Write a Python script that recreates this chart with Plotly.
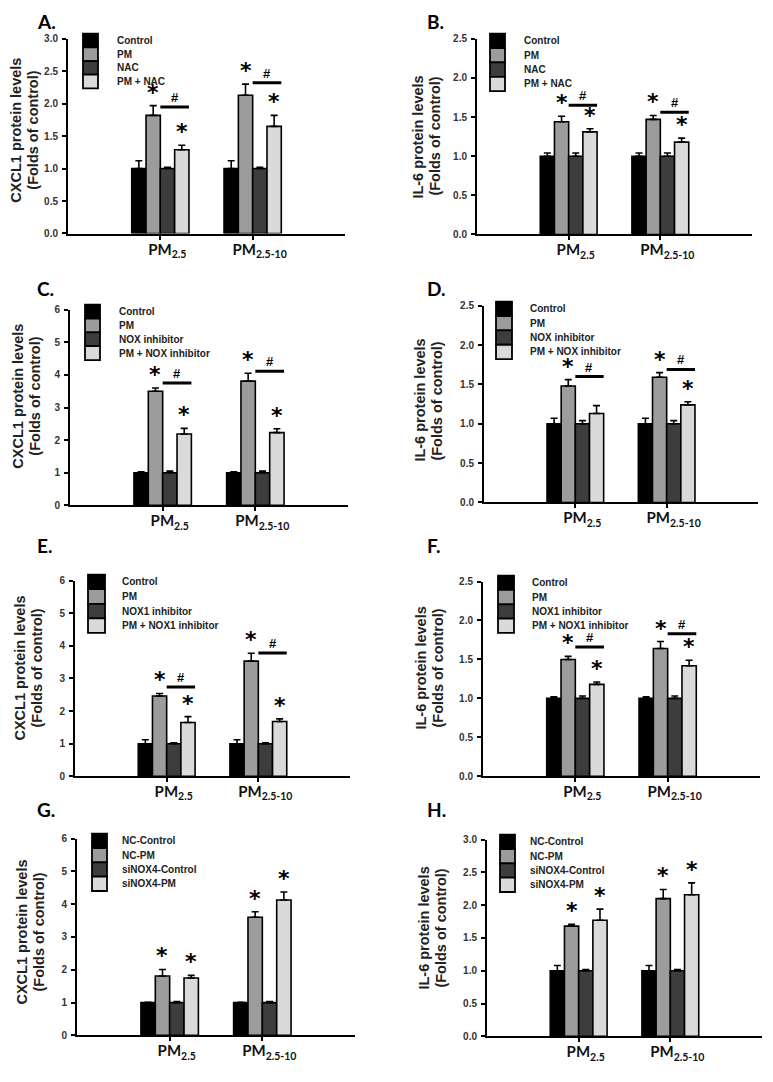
import plotly.graph_objects as go

W, H = 773, 1082
PAD = 8                       # default page margin around the plot div
FW, FH = W - 2 * PAD, H - 2 * PAD

# ---------------- data ----------------
groups = ["PM<sub>2.5</sub>", "PM<sub>2.5-10</sub>"]
group_x = [1, 2]
colors = ["#000000", "#9c9c9c", "#3d3d3d", "#dadada"]

labels_A = ["Control", "PM", "NAC", "PM + NAC"]
mean_A = [[1.00, 1.00], [1.82, 2.13], [1.00, 1.00], [1.29, 1.65]]
err_A = [[0.12, 0.12], [0.15, 0.17], [0.02, 0.02], [0.07, 0.17]]
star_A = [[0, 0], [1, 1], [0, 0], [1, 1]]
hash_A = [1.95, 2.32]

labels_B = ["Control", "PM", "NAC", "PM + NAC"]
mean_B = [[1.00, 1.00], [1.44, 1.47], [1.00, 1.00], [1.31, 1.18]]
err_B = [[0.04, 0.04], [0.07, 0.05], [0.04, 0.04], [0.04, 0.05]]
star_B = [[0, 0], [1, 1], [0, 0], [1, 1]]
hash_B = [1.65, 1.56]

labels_C = ["Control", "PM", "NOX inhibitor", "PM + NOX inhibitor"]
mean_C = [[1.00, 1.00], [3.50, 3.81], [1.00, 1.00], [2.19, 2.23]]
err_C = [[0.03, 0.03], [0.10, 0.24], [0.05, 0.05], [0.17, 0.12]]
star_C = [[0, 0], [1, 1], [0, 0], [1, 1]]
hash_C = [3.75, 4.11]

labels_D = ["Control", "PM", "NOX inhibitor", "PM + NOX inhibitor"]
mean_D = [[1.00, 1.00], [1.48, 1.59], [1.00, 1.00], [1.13, 1.24]]
err_D = [[0.07, 0.07], [0.08, 0.06], [0.04, 0.04], [0.10, 0.04]]
star_D = [[0, 0], [1, 1], [0, 0], [0, 1]]
hash_D = [1.60, 1.69]

labels_E = ["Control", "PM", "NOX1 inhibitor", "PM + NOX1 inhibitor"]
mean_E = [[1.00, 1.00], [2.46, 3.53], [1.00, 1.00], [1.65, 1.68]]
err_E = [[0.12, 0.12], [0.08, 0.24], [0.03, 0.03], [0.18, 0.08]]
star_E = [[0, 0], [1, 1], [0, 0], [1, 1]]
hash_E = [2.74, 3.78]

labels_F = ["Control", "PM", "NOX1 inhibitor", "PM + NOX1 inhibitor"]
mean_F = [[1.00, 1.00], [1.50, 1.64], [1.00, 1.00], [1.18, 1.42]]
err_F = [[0.02, 0.02], [0.04, 0.09], [0.03, 0.03], [0.03, 0.07]]
star_F = [[0, 0], [1, 1], [0, 0], [1, 1]]
hash_F = [1.66, 1.83]

labels_G = ["NC-Control", "NC-PM", "siNOX4-Control", "siNOX4-PM"]
mean_G = [[1.00, 1.00], [1.81, 3.60], [1.00, 1.00], [1.75, 4.13]]
err_G = [[0.01, 0.01], [0.20, 0.17], [0.03, 0.03], [0.08, 0.24]]
star_G = [[0, 0], [1, 1], [0, 0], [1, 1]]
hash_G = None

labels_H = ["NC-Control", "NC-PM", "siNOX4-Control", "siNOX4-PM"]
mean_H = [[1.00, 1.00], [1.68, 2.10], [1.00, 1.00], [1.77, 2.16]]
err_H = [[0.08, 0.08], [0.03, 0.14], [0.02, 0.02], [0.17, 0.18]]
star_H = [[0, 0], [1, 1], [0, 0], [1, 1]]
hash_H = None

ytitle_cxcl = ["CXCL1 protein levels", "(Folds of control)"]
ytitle_il6 = ["IL-6 protein levels", "(Folds of control)"]

# ---------------- layout per panel (page pixels) ----------------
panels = [
    dict(letter="A.", labels=labels_A, mean=mean_A, err=err_A, star=star_A, hash=hash_A,
         ytitle=ytitle_cxcl, yr=3.0, dt=0.5, fmt=".1f",
         dom=(68, 345, 33, 230), lpos=(35, 16), tpos=(16, 126), leg=(83, 28, 15, 13.8, 115)),
    dict(letter="B.", labels=labels_B, mean=mean_B, err=err_B, star=star_B, hash=hash_B,
         ytitle=ytitle_il6, yr=2.5, dt=0.5, fmt=".1f",
         dom=(477, 752, 33, 231), lpos=(425, 16), tpos=(418, 132), leg=(490, 28, 15, 14.5, 522)),
    dict(letter="C.", labels=labels_C, mean=mean_C, err=err_C, star=star_C, hash=hash_C,
         ytitle=ytitle_cxcl, yr=6, dt=1, fmt="d",
         dom=(70, 348, 307, 505), lpos=(35, 286), tpos=(18, 395), leg=(85, 302, 15, 14, 117)),
    dict(letter="D.", labels=labels_D, mean=mean_D, err=err_D, star=star_D, hash=hash_D,
         ytitle=ytitle_il6, yr=2.5, dt=0.5, fmt=".1f",
         dom=(484, 758, 303, 502), lpos=(425, 286), tpos=(420, 399), leg=(496, 299, 16, 14.5, 528)),
    dict(letter="E.", labels=labels_E, mean=mean_E, err=err_E, star=star_E, hash=hash_E,
         ytitle=ytitle_cxcl, yr=6, dt=1, fmt="d",
         dom=(75, 350, 581, 779), lpos=(35, 546), tpos=(20, 670), leg=(88, 575, 17, 14.75, 120)),
    dict(letter="F.", labels=labels_F, mean=mean_F, err=err_F, star=star_F, hash=hash_F,
         ytitle=ytitle_il6, yr=2.5, dt=0.5, fmt=".1f",
         dom=(483, 760, 582, 779), lpos=(425, 546), tpos=(421, 670), leg=(498, 576, 16, 14.5, 530)),
    dict(letter="G.", labels=labels_G, mean=mean_G, err=err_G, star=star_G, hash=hash_G,
         ytitle=ytitle_cxcl, yr=6, dt=1, fmt="d",
         dom=(77, 355, 842, 1041), lpos=(35, 813), tpos=(22, 937), leg=(92, 837, 15, 14.5, 120)),
    dict(letter="H.", labels=labels_H, mean=mean_H, err=err_H, star=star_H, hash=hash_H,
         ytitle=ytitle_il6, yr=3.0, dt=0.5, fmt=".1f",
         dom=(487, 762, 843, 1042), lpos=(425, 813), tpos=(424, 933), leg=(500, 838, 15, 14.5, 528)),
]
TITLE_GAP = 17

BW = 0.155  # bar width in category units
offsets = [-2 * BW, -BW, 0.0, BW]

def px(x):
    return (x - PAD) / FW

def py(y):
    return 1 - (y - PAD) / FH

fig = go.Figure()
annotations = []
shapes = []
layout = {}

for i, p in enumerate(panels):
    n = i + 1
    xa = "x" if n == 1 else f"x{n}"
    ya = "y" if n == 1 else f"y{n}"
    xkey = "xaxis" if n == 1 else f"xaxis{n}"
    ykey = "yaxis" if n == 1 else f"yaxis{n}"
    x0, x1, yt, yb = p["dom"]

    for s in range(4):
        fig.add_trace(go.Bar(
            x=group_x, y=p["mean"][s], name=p["labels"][s],
            xaxis=xa, yaxis=ya, width=BW, offset=offsets[s],
            marker=dict(color=colors[s], line=dict(color="#000", width=1.6)),
            error_y=dict(type="data", array=p["err"][s], arrayminus=[0, 0], symmetric=False,
                         color="#000", thickness=1.6, width=3.5),
            showlegend=False, hoverinfo="skip",
        ))
        for g in range(2):
            if p["star"][s][g]:
                annotations.append(dict(
                    x=group_x[g] + offsets[s] + BW / 2, y=p["mean"][s][g] + p["err"][s][g],
                    xref=xa, yref=ya, text="<b>*</b>", showarrow=False, yanchor="bottom",
                    yshift=-1, font=dict(family="DejaVu Sans", size=22, color="#000")))

    if p["hash"] is not None:
        for g in range(2):
            xs = group_x[g] + offsets[1] + BW
            xe = group_x[g] + offsets[3] + BW
            shapes.append(dict(type="line", xref=xa, yref=ya, x0=xs, x1=xe,
                               y0=p["hash"][g], y1=p["hash"][g], line=dict(color="#000", width=3)))
            annotations.append(dict(x=(xs + xe) / 2, y=p["hash"][g], xref=xa, yref=ya, text="<b>#</b>",
                                    showarrow=False, yanchor="bottom", yshift=0,
                                    font=dict(family="Liberation Sans", size=13, color="#000")))

    layout[xkey] = dict(domain=[px(x0), px(x1)], anchor=ya, range=[0, 3], tickvals=group_x,
                        ticktext=groups, showline=True, linecolor="#000", linewidth=2,
                        ticks="outside", ticklen=4, tickwidth=1.5, tickcolor="#000",
                        showgrid=False, zeroline=False, ticklabelstandoff=-3, ticklabelshift=7,
                        tickfont=dict(family="Lato", size=15, color="#111", weight="bold"),
                        fixedrange=True)
    layout[ykey] = dict(domain=[py(yb), py(yt)], anchor=xa, range=[0, p["yr"]], dtick=p["dt"],
                        tick0=0, tickformat=p["fmt"], showline=True, linecolor="#000", linewidth=2,
                        ticks="outside", ticklen=4, tickwidth=1.5, tickcolor="#000",
                        showgrid=False, zeroline=False, ticklabelstandoff=2,
                        tickfont=dict(family="Liberation Sans", size=10, color="#333", weight="bold"),
                        fixedrange=True)

    # panel letter
    annotations.append(dict(x=px(p["lpos"][0]), y=py(p["lpos"][1]), xref="paper", yref="paper",
                            text=f"<b>{p['letter']}</b>", showarrow=False, xanchor="left",
                            yanchor="middle", font=dict(family="Lato", size=19, color="#000")))
    # y title: two rotated lines
    for k, line in enumerate(p["ytitle"]):
        annotations.append(dict(x=px(p["tpos"][0] + TITLE_GAP * k), y=py(p["tpos"][1]),
                                xref="paper", yref="paper",
                                text=f"<b>{line}</b>", showarrow=False, textangle=-90,
                                xanchor="center", yanchor="middle",
                                font=dict(family="Liberation Sans", size=14.5, color="#222")))
    # legend
    bx, by, bw, rh, tx = p["leg"]
    for s in range(4):
        shapes.append(dict(type="rect", xref="paper", yref="paper",
                           x0=px(bx), x1=px(bx + bw), y0=py(by + rh * (s + 1)), y1=py(by + rh * s),
                           fillcolor=colors[s], line=dict(color="#000", width=1.8)))
        annotations.append(dict(x=px(tx), y=py(by + rh * (s + 0.5)), xref="paper", yref="paper",
                                text=f"<b>{p['labels'][s]}</b>", showarrow=False, xanchor="left",
                                yanchor="middle",
                                font=dict(family="Liberation Sans", size=10, color="#222")))

fig.update_layout(**layout)
fig.update_layout(width=FW, height=FH, margin=dict(l=0, r=0, t=0, b=0),
                  paper_bgcolor="white", plot_bgcolor="white", barmode="overlay",
                  annotations=annotations, shapes=shapes, showlegend=False)

fig.write_html("out.html")
